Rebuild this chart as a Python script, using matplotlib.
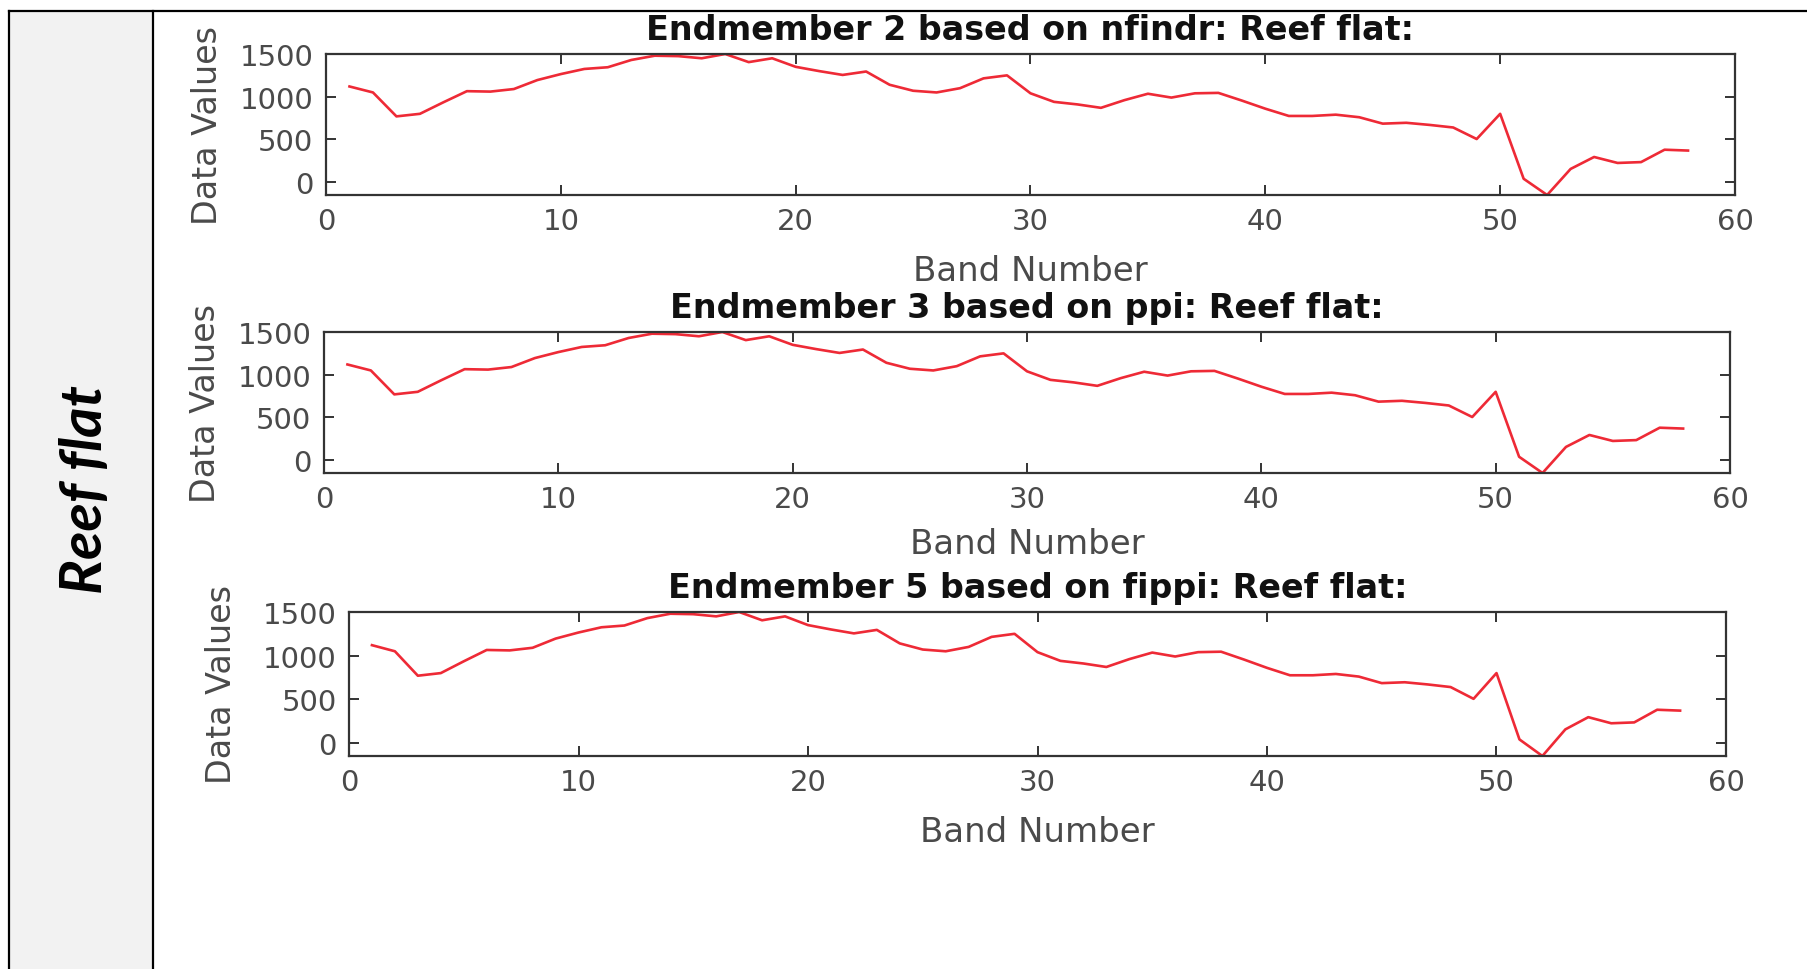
import matplotlib
matplotlib.use("Agg")
import matplotlib.pyplot as plt
from matplotlib.lines import Line2D
from matplotlib.patches import Rectangle

# ---------------- data ----------------
bands = list(range(1, 59))
nfindr_em2 = [1120, 1050, 770, 800, 935, 1065, 1060, 1090, 1195, 1265,
              1325, 1345, 1430, 1480, 1475, 1450, 1500, 1405, 1450, 1350,
              1300, 1255, 1295, 1140, 1070, 1050, 1100, 1215, 1250, 1040,
              940, 910, 870, 960, 1035, 990, 1040, 1045, 955, 860,
              775, 775, 790, 760, 685, 695, 670, 640, 505, 800,
              40, -150, 155, 295, 225, 235, 380, 370]
ppi_em3 = list(nfindr_em2)
fippi_em5 = list(nfindr_em2)
titles = ["Endmember 2 based on nfindr: Reef flat:",
          "Endmember 3 based on ppi: Reef flat:",
          "Endmember 5 based on fippi: Reef flat:"]
series = [nfindr_em2, ppi_em3, fippi_em5]
xticks = [0, 10, 20, 30, 40, 50, 60]
yticks = [0, 500, 1000, 1500]
row_label = "Reef flat"

W, H = 1808, 970
fig = plt.figure(figsize=(W / 100, H / 100), dpi=100)

# ---------------- table frame ----------------
fx = lambda px: px / W
fy = lambda py: 1 - py / H
fig.patches.append(Rectangle((fx(9), 0), fx(153) - fx(9), fy(11.5), transform=fig.transFigure,
                             facecolor="#f2f2f2", edgecolor="none", zorder=0))
for xs, ys in [([fx(9), 1.0], [fy(11.5), fy(11.5)]),
               ([fx(9), fx(9)], [0, fy(11.5)]),
               ([fx(153), fx(153)], [0, fy(11.5)])]:
    fig.lines.append(Line2D(xs, ys, transform=fig.transFigure, color="black", lw=1.6, zorder=1))

fig.text(fx(86), fy(490), row_label, rotation=90, ha="center", va="center",
         fontsize=42, fontweight="bold", fontstyle="italic", family="Lato", color="black")

# ---------------- axes ----------------
boxes = [(326, 1735, 55, 196), (324, 1730, 333, 474), (349, 1726, 613, 757)]
ylab_off = [118, 118, 128]
xlab_off = [76, 71, 75]
tick_color = "#4a4a4a"
for (l, r, t, b), vals, title, yo, xo in zip(boxes, series, titles, ylab_off, xlab_off):
    ax = fig.add_axes([fx(l), fy(b), (r - l) / W, (b - t) / H])
    ax.plot(bands, vals, color="#ee2a36", lw=1.9)
    ax.set_xlim(0, 60)
    ax.set_ylim(min(vals), max(vals))
    ax.set_xticks(xticks)
    ax.set_yticks(yticks)
    ax.tick_params(direction="in", length=7, width=1.4, top=True, right=True,
                   labelsize=21, labelcolor=tick_color, color="#333333")
    ax.tick_params(axis="y", pad=9)
    ax.tick_params(axis="x", pad=9)
    for s in ax.spines.values():
        s.set_linewidth(1.6)
        s.set_color("#333333")
    ax.set_title(title, fontsize=24, fontweight="bold", color="#111111", pad=11)
    ax.set_xlabel("Band Number", fontsize=24.5, color=tick_color)
    ax.set_ylabel("Data Values", fontsize=24, color=tick_color)
    ax.xaxis.set_label_coords(0.5, -xo / (b - t))
    ax.xaxis.label.set_va("center")
    ax.yaxis.set_label_coords(-yo / (r - l), 0.5)
    ax.yaxis.label.set_va("center")

fig.savefig("out.png", dpi=100)
